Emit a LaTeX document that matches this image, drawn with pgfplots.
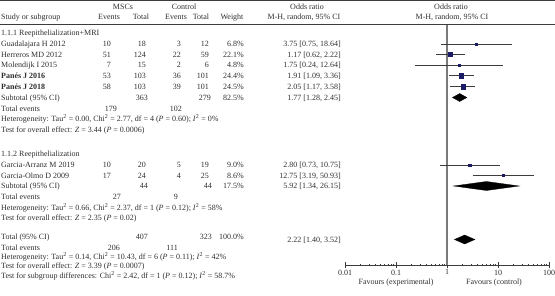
\documentclass[border=0pt]{standalone}
\usepackage{pgfplots}
\pgfplotsset{compat=1.18}
\usepackage{fontspec}
\setmainfont{Liberation Serif}

\definecolor{txt}{HTML}{2E2E2E}
\definecolor{sq}{HTML}{1C1C66}
\definecolor{ln}{HTML}{3C3C3C}
\definecolor{vline}{HTML}{7A7A7A}
\newcommand{\fs}{\fontsize{8}{9}\selectfont}
\newcommand{\sq}{\textsuperscript{2}}

\begin{document}
\begin{tikzpicture}[x=1pt,y=1pt,
  t/.style={inner sep=0pt, text height=1.6ex, text depth=0.45ex, font=\fs, text=txt},
  l/.style={t, anchor=west}, r/.style={t, anchor=east}, c/.style={t, anchor=center}]
\useasboundingbox (0,0) rectangle (555,-295);
% rules
\draw[line width=1.1pt, ln] (0,-0.6) -- (555,-0.6);
\draw[line width=0.7pt, ln] (0,-24.5) -- (555,-24.5);

% header
\node[c] at (123,-6.5) {MSCs};
\node[c] at (184,-6.5) {Control};
\node[c] at (307,-6.5) {Odds ratio};
\node[c] at (451,-6.5) {Odds ratio};
\node[l] at (1,-16.5) {Study or subgroup};
\node[c] at (109,-16.5) {Events};
\node[c] at (141,-16.5) {Total};
\node[c] at (176,-16.5) {Events};
\node[c] at (201,-16.5) {Total};
\node[c] at (232,-16.5) {Weight};
\node[c] at (304,-16.5) {M-H, random, 95\% CI};
\node[c] at (452,-16.5) {M-H, random, 95\% CI};

% subgroup 1
\node[l] at (1,-33) {1.1.1 Reepithelialization+MRI};
\foreach \y/\name/\ea/\ta/\eb/\tb/\w/\orr in {
  44/{Guadalajara H 2012}/10/18/3/12/6.8/{3.75 [0.75, 18.64]},
  54.5/{Herreros MD 2012}/51/124/22/59/22.1/{1.17 [0.62, 2.22]},
  65/{Molendijk I 2015}/7/15/2/6/4.8/{1.75 [0.24, 12.64]},
  75.5/{\textbf{Panés J 2016}}/53/103/36/101/24.4/{1.91 [1.09, 3.36]},
  86.5/{\textbf{Panés J 2018}}/58/103/39/101/24.5/{2.05 [1.17, 3.58]},
  165/{Garcia-Arranz M 2019}/10/20/5/19/9.0/{2.80 [0.73, 10.75]},
  175.5/{Garcia-Olmo D 2009}/17/24/4/25/8.6/{12.75 [3.19, 50.93]}}{
  \node[l] at (1,-\y) {\name};
  \node[r] at (111,-\y) {\ea};
  \node[r] at (146,-\y) {\ta};
  \node[r] at (181,-\y) {\eb};
  \node[r] at (209,-\y) {\tb};
  \node[r] at (244,-\y) {\w\%};
  \node[r] at (341,-\y) {\orr};
}
\node[l] at (1,-97.5) {Subtotal (95\% CI)};
\node[r] at (148,-97.5) {363};
\node[r] at (211,-97.5) {279};
\node[r] at (244,-97.5) {82.5\%};
\node[r] at (341,-97.5) {1.77 [1.28, 2.45]};
\node[l] at (1,-108.5) {Total events};
\node[r] at (117,-108.5) {179};
\node[r] at (182,-108.5) {102};
\node[l] at (1,-119) {Heterogeneity: Tau\sq{} = 0.00, Chi\sq{} = 2.77, df = 4 (\textit{P} = 0.60); \textit{I}\sq{} = 0\%};
\node[l] at (1,-129.5) {Test for overall effect: \textit{Z} = 3.44 (\textit{P} = 0.0006)};

% subgroup 2
\node[l] at (1,-154) {1.1.2 Reepithelialization};
\node[l] at (1,-186) {Subtotal (95\% CI)};
\node[r] at (148,-186) {44};
\node[r] at (212,-186) {44};
\node[r] at (244,-186) {17.5\%};
\node[r] at (341,-186) {5.92 [1.34, 26.15]};
\node[l] at (1,-197) {Total events};
\node[r] at (121,-197) {27};
\node[r] at (178,-197) {9};
\node[l] at (1,-207.5) {Heterogeneity: Tau\sq{} = 0.66, Chi\sq{} = 2.37, df = 1 (\textit{P} = 0.12); \textit{I}\sq{} = 58\%};
\node[l] at (1,-217.5) {Test for overall effect: \textit{Z} = 2.35 (\textit{P} = 0.02)};

% overall
\node[l] at (1,-237) {Total (95\% CI)};
\node[r] at (148,-237) {407};
\node[r] at (212,-237) {323};
\node[r] at (244,-237) {100.0\%};
\node[r] at (341,-239.5) {2.22 [1.40, 3.52]};
\node[l] at (1,-247.5) {Total events};
\node[r] at (120,-247.5) {206};
\node[r] at (178,-247.5) {111};
\node[l] at (1,-257) {Heterogeneity: Tau\sq{} = 0.14, Chi\sq{} = 10.43, df = 6 (\textit{P} = 0.11); \textit{I}\sq{} = 42\%};
\node[l] at (1,-266) {Test for overall effect: \textit{Z} = 3.39 (\textit{P} = 0.0007)};
\node[l] at (1,-276) {Test for subgroup differences: Chi\sq{} = 2.42, df = 1 (\textit{P} = 0.12); \textit{I}\sq{} = 58.7\%};

\node[c] at (396,-281.5) {Favours (experimental)};
\node[c] at (494,-281.5) {Favours (control)};

\begin{axis}[
  at={(345pt,-265pt)}, anchor=south west,
  scale only axis, width=204pt, height=240pt,
  xmode=log, xmin=0.01, xmax=100, ymin=30, ymax=270,
  axis x line=bottom, axis y line=none,
  xtick={0.01,0.1,1,10,100}, xticklabels={0.01,0.1,1,10,100},
  minor xtick={},
  x axis line style={-, line width=0.8pt, ln},
  tick align=center, major tick length=6pt,
  x tick style={line width=0.8pt, ln},
  xticklabel style={font=\fs, text=txt, inner sep=0pt, yshift=-1.5pt},
  clip=false,
  ci/.style={line width=0.7pt, ln, no marks},
  pt/.style={only marks, mark=square*, sq, mark options={draw=sq, fill=sq}},
  dm/.style={fill=black, draw=black, line width=0.3pt, no marks},
]
\addplot[line width=1.1pt, vline, no marks] coordinates {(1,30) (1,270)};
% studies: CI lines and point estimates
\addplot[ci] coordinates {(0.75,251) (18.64,251)};
\addplot[pt, mark size=1pt] coordinates {(3.75,251)};
\addplot[ci] coordinates {(0.62,240.5) (2.22,240.5)};
\addplot[pt, mark size=2pt] coordinates {(1.17,240.5)};
\addplot[ci] coordinates {(0.24,230) (12.64,230)};
\addplot[pt, mark size=0.8pt] coordinates {(1.75,230)};
\addplot[ci] coordinates {(1.09,219.5) (3.36,219.5)};
\addplot[pt, mark size=2.2pt] coordinates {(1.91,219.5)};
\addplot[ci] coordinates {(1.17,208.5) (3.58,208.5)};
\addplot[pt, mark size=2.2pt] coordinates {(2.05,208.5)};
\addplot[dm] coordinates {(1.28,197.5) (1.77,201.5) (2.45,197.5) (1.77,193.5)} -- cycle;
\addplot[ci] coordinates {(0.73,130) (10.75,130)};
\addplot[pt, mark size=1.15pt] coordinates {(2.80,130)};
\addplot[ci] coordinates {(3.19,119.5) (50.93,119.5)};
\addplot[pt, mark size=1.1pt] coordinates {(12.75,119.5)};
\addplot[dm] coordinates {(1.34,109) (5.92,113.5) (26.15,109) (5.92,104.5)} -- cycle;
\addplot[dm] coordinates {(1.40,55.5) (2.22,60) (3.52,55.5) (2.22,51)} -- cycle;
\end{axis}
\end{tikzpicture}
\end{document}
